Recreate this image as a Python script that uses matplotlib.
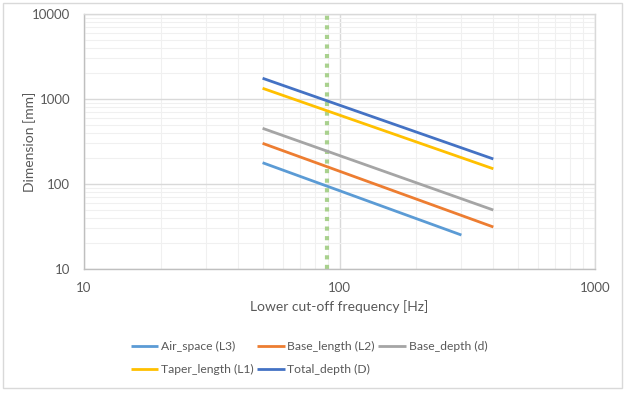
import matplotlib
matplotlib.use("Agg")
import matplotlib.pyplot as plt
from matplotlib.ticker import LogLocator, FixedLocator, NullFormatter
from matplotlib.patches import Rectangle

plt.rcParams['font.family'] = ['Lato', 'DejaVu Sans']

# Data
freq = [50, 400]
freq_air = [50, 300]
air_space = [178, 25.1]
base_length = [301, 31.2]
base_depth = [452, 49.4]
taper_length = [1337, 151]
total_depth = [1754, 197]
cutoff_x = [89, 89]
cutoff_y = [10, 10000]

series_names = ["Air_space (L3)", "Base_length (L2)", "Base_depth (d)",
                "Taper_length (L1)", "Total_depth (D)"]
colors = ["#5B9BD5", "#ED7D31", "#A5A5A5", "#FFC000", "#4472C4"]

W, H = 629, 396
fig = plt.figure(figsize=(W / 100, H / 100), dpi=100)
ax = fig.add_axes([84 / W, 1 - 269 / H, (595 - 84) / W, (269 - 14) / H])

ax.set_xscale('log')
ax.set_yscale('log')
ax.set_xlim(10, 1000)
ax.set_ylim(10, 10000)

ax.xaxis.set_major_locator(FixedLocator([10, 100, 1000]))
ax.yaxis.set_major_locator(FixedLocator([10, 100, 1000, 10000]))
ax.xaxis.set_minor_locator(LogLocator(base=10, subs=range(2, 10)))
ax.yaxis.set_minor_locator(LogLocator(base=10, subs=range(2, 10)))
ax.xaxis.set_minor_formatter(NullFormatter())
ax.yaxis.set_minor_formatter(NullFormatter())
ax.set_xticklabels(["10", "100", "1000"])
ax.set_yticklabels(["10", "100", "1000", "10000"])

ax.grid(which='major', color='#D9D9D9', linewidth=1.0)
ax.grid(which='minor', color='#F0F0F0', linewidth=0.8)
ax.set_axisbelow(True)
ax.tick_params(which='both', length=0, colors='#595959', labelsize=9.5)
ax.tick_params(axis='x', pad=9)
ax.tick_params(axis='y', pad=10)
for s in ax.spines.values():
    s.set_color('#D9D9D9')
    s.set_linewidth(1.0)
ax.spines['left'].set_color('#BFBFBF')
ax.spines['bottom'].set_color('#BFBFBF')

ax.plot(cutoff_x, cutoff_y, color='#A9D18E', linewidth=3, linestyle=(0, (1, 1.3)),
        zorder=2)

lines = []
xs = [freq_air, freq, freq, freq, freq]
ys = [air_space, base_length, base_depth, taper_length, total_depth]
for x, y, c, n in zip(xs, ys, colors, series_names):
    ln, = ax.plot(x, y, color=c, linewidth=2, label=n, solid_capstyle='butt', zorder=3)
    lines.append(ln)

ax.set_xlabel("Lower cut-off frequency [Hz]", color='#595959', fontsize=10)
ax.set_ylabel("Dimension [mm]", color='#595959', fontsize=10)
ax.xaxis.set_label_coords(0.5, -(307 - 269) / 255, transform=ax.transAxes)
ax.yaxis.set_label_coords(-(84 - 30) / 511, 0.5, transform=ax.transAxes)
ax.xaxis.label.set_va('center')
ax.yaxis.label.set_va('center')

order = [0, 3, 1, 4, 2]
leg = fig.legend([lines[i] for i in order], [series_names[i] for i in order],
                 ncol=3, loc='center', bbox_to_anchor=(309 / W, 1 - 358 / H),
                 frameon=False, fontsize=8.7, labelcolor='#595959',
                 handlelength=2.3, handletextpad=0.2, columnspacing=0.3,
                 labelspacing=1.0)

fig.add_artist(Rectangle((3 / W, 1 - 388 / H), (622 - 3) / W, (388 - 3) / H,
                         transform=fig.transFigure, fill=False,
                         edgecolor='#D9D9D9', linewidth=1.0))

fig.savefig("out.png", dpi=100)
